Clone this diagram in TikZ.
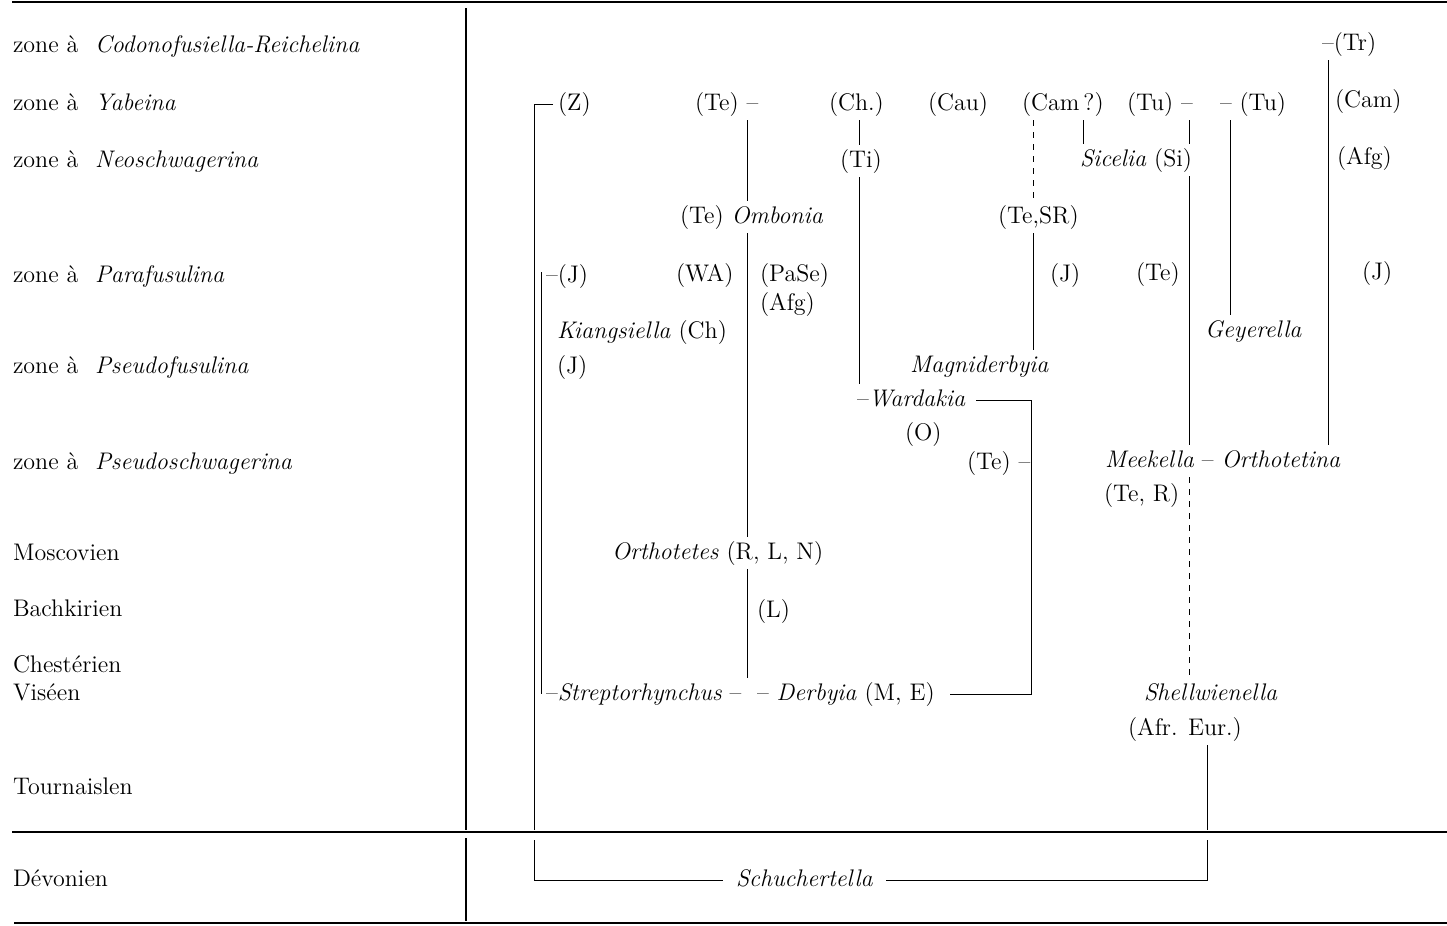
\documentclass[tikz,border=0pt]{standalone}
\usepackage{fontspec}
\usepackage{tikz}
\usetikzlibrary{calc}

\newcommand{\zone}[1]{zone à\hspace{0.7em}\textit{#1}}

\begin{document}
\begin{tikzpicture}[x=0.5pt, y=-0.5pt, line width=0.5pt,
    every node/.style={font=\fontsize{12}{14}\selectfont, anchor=west, inner sep=1pt, outer sep=1.5pt, text height=8.5pt, text depth=2.5pt},
    rule/.style={line width=1pt}]

  \useasboundingbox (0,0) rectangle (1447,926);

  \coordinate (sepL) at (12,832);
  \coordinate (sepR) at (1447,832);
  \draw[rule] (12,2) -- (1447,2);
  \draw[rule] (sepL) -- (sepR);
  \draw[rule] (14,923) -- (1447,923);
  \draw[rule] (466,8) -- (466,830);
  \draw[rule] (466,838) -- (466,921);

  \node (zCR) at (8,47) {\zone{Codonofusiella-Reichelina}};
  \node (zY) at (8,104) {\zone{Yabeina}};
  \node (zN) at (8,161) {\zone{Neoschwagerina}};
  \node (zPa) at (8,276) {\zone{Parafusulina}};
  \node (zPf) at (8,367) {\zone{Pseudofusulina}};
  \node (zPs) at (8,463) {\zone{Pseudoschwagerina}};
  \node (mosc) at (8,554) {Moscovien};
  \node (bach) at (8,610) {Bachkirien};
  \node (chest) at (8,666) {Chestérien};
  \node (vise) at (8,694) {Viséen};
  \node (tour) at (8,788) {Tournaislen};
  \node (devo) at (8,880) {Dévonien};

  \node (tr) at (1317,44) {--(Tr)};
  \node (z) at (553,104) {(Z)};
  \node (teA) at (690,104) {(Te) --};
  \node (chA) at (824,104) {(Ch.)};
  \node (cau) at (923,104) {(Cau)};
  \node (camq) at (1017,104) {(Cam\,?)};
  \node (tuA) at (1122,104) {(Tu) --};
  \node (tuB) at (1215,104) {-- (Tu)};
  \node (cam) at (1330,101) {(Cam)};
  \node (ti) at (835,161) {(Ti)};
  \node (sic) at (1075,160) {\textit{Sicelia} (Si)};
  \node (afgA) at (1332,158) {(Afg)};
  \node (omb) at (675,217) {(Te) \textit{Ombonia}};
  \node (tesr) at (993,217) {(Te,SR)};
  \node (jA) at (541,276) {--(J)};
  \node (wa) at (671,275) {(WA)};
  \node (pase) at (755,275) {(PaSe)};
  \node (jB) at (1045,275) {(J)};
  \node (teB) at (1131,274) {(Te)};
  \node (jC) at (1357,273) {(J)};
  \node (afgB) at (755,304) {(Afg)};
  \node (kia) at (552,332) {\textit{Kiangsiella} (Ch)};
  \node (gey) at (1200,331) {\textit{Geyerella}};
  \node (jD) at (552,367) {(J)};
  \node (mag) at (905,366) {\textit{Magniderbyia}};
  \node (war) at (852,400) {--\textit{Wardakia}};
  \node (o) at (900,434) {(O)};
  \node (teC) at (962,463) {(Te) --};
  \node (mee) at (1100,461) {\textit{Meekella} -- \textit{Orthotetina}};
  \node (ter) at (1099,495) {(Te, R)};
  \node (ort) at (607,553) {\textit{Orthotetes} (R, L, N)};
  \node (l) at (752,611) {(L)};
  \node (str) at (541,694) {--\textit{Streptorhynchus} --};
  \node (der) at (752,694) {-- \textit{Derbyia} (M, E)};
  \node (she) at (1139,694) {\textit{Shellwienella}};
  \node (afr) at (1123,729) {(Afr. Eur.)};
  \node (sch) at (731,880) {\textit{Schuchertella}};

  \coordinate (cTrunk) at (534,0);
  \coordinate (cOmb) at (747,0);
  \coordinate (cTi) at (859,0);
  \coordinate (cWar) at (1031,0);
  \coordinate (cCam) at (1033,0);
  \coordinate (cSic) at (1083,0);
  \coordinate (cMee) at (1189,0);
  \coordinate (cSch) at (1207,0);
  \coordinate (cGey) at (1230,0);
  \coordinate (cTr) at (1328,0);

  \draw (z.west) -| ([yshift=1pt]cTrunk |- sepL);
  \draw[shorten >=4pt] ([yshift=-4pt]cTrunk |- sepL) |- (sch.west);
  \draw[shorten >=4pt] ([yshift=-4pt]cSch |- sepL) |- (sch.east);
  \draw (cSch |- afr.south) -- ([yshift=1pt]cSch |- sepL);
  \draw ([yshift=2pt]jA.west) -- (str.west);

  \draw (cOmb |- teA.south) -- (cOmb |- omb.north);
  \draw (cOmb |- omb.south) -- (cOmb |- ort.north);
  \draw (cOmb |- ort.south) -- (cOmb |- str.north);

  \draw (cTi |- chA.south) -- (cTi |- ti.north);
  \draw (cTi |- ti.south) -- (cTi |- war.north);
  \draw[shorten <=3pt, shorten >=5pt] (war.east) -| (cWar |- der.east) -- (der.east);

  \draw[dashed] (cCam |- camq.south) -- (cCam |- tesr.north);
  \draw (cCam |- tesr.south) -- (cCam |- mag.north);
  \draw (cSic |- camq.south) -- (cSic |- sic.north);

  \draw (cMee |- tuA.south) -- (cMee |- sic.north);
  \draw (cMee |- sic.south) -- (cMee |- mee.north);
  \draw[dashed] (cMee |- mee.south) -- (cMee |- she.north);
  \draw (cGey |- tuB.south) -- (cGey |- gey.north);
  \draw (cTr |- tr.south) -- (cTr |- mee.north);
\end{tikzpicture}
\end{document}
